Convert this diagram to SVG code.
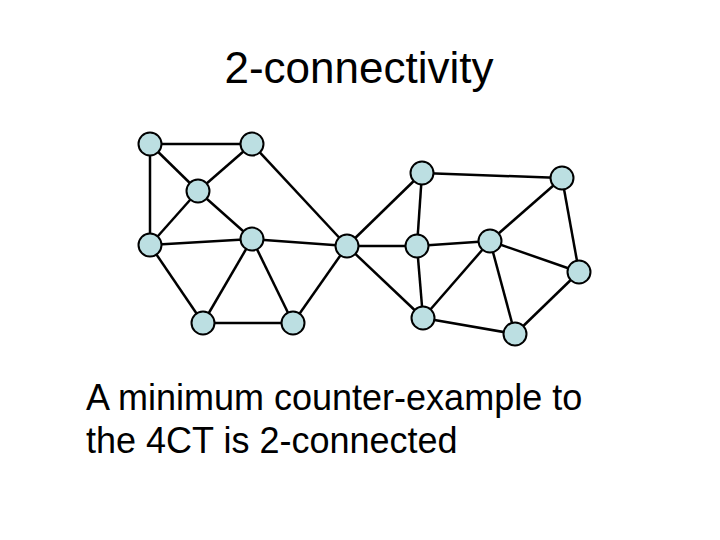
<svg xmlns="http://www.w3.org/2000/svg" width="720" height="540" viewBox="0 0 720 540">
<style>
.n{fill:#bcdfe2;stroke:#000;stroke-width:2}
.e line{stroke:#000;stroke-width:2.5}
text{font-family:"Liberation Sans",Arial,sans-serif;fill:#000}
</style>
<rect width="720" height="540" fill="#fff"/>
<text x="359" y="83" font-size="44" text-anchor="middle">2-connectivity</text>
<g class="e">
<line x1="150" y1="144" x2="252" y2="144"/>
<line x1="150" y1="144" x2="198" y2="191"/>
<line x1="150" y1="144" x2="150" y2="245"/>
<line x1="252" y1="144" x2="198" y2="191"/>
<line x1="252" y1="144" x2="347" y2="246"/>
<line x1="198" y1="191" x2="150" y2="245"/>
<line x1="198" y1="191" x2="252" y2="239"/>
<line x1="150" y1="245" x2="252" y2="239"/>
<line x1="150" y1="245" x2="203" y2="323"/>
<line x1="252" y1="239" x2="347" y2="246"/>
<line x1="252" y1="239" x2="203" y2="323"/>
<line x1="252" y1="239" x2="293" y2="323"/>
<line x1="203" y1="323" x2="293" y2="323"/>
<line x1="293" y1="323" x2="347" y2="246"/>
<line x1="347" y1="246" x2="422" y2="173"/>
<line x1="347" y1="246" x2="417" y2="246"/>
<line x1="347" y1="246" x2="423" y2="318"/>
<line x1="422" y1="173" x2="562" y2="178"/>
<line x1="422" y1="173" x2="417" y2="246"/>
<line x1="417" y1="246" x2="490" y2="241"/>
<line x1="417" y1="246" x2="423" y2="318"/>
<line x1="423" y1="318" x2="490" y2="241"/>
<line x1="423" y1="318" x2="515" y2="334"/>
<line x1="490" y1="241" x2="562" y2="178"/>
<line x1="490" y1="241" x2="579" y2="272"/>
<line x1="490" y1="241" x2="515" y2="334"/>
<line x1="562" y1="178" x2="579" y2="272"/>
<line x1="579" y1="272" x2="515" y2="334"/>
</g>
<g id="nA"><circle class="n" cx="150" cy="144" r="11.5"/></g>
<g id="nB"><circle class="n" cx="252" cy="144" r="11.5"/></g>
<g id="nC"><circle class="n" cx="198" cy="191" r="11.5"/></g>
<g id="nD"><circle class="n" cx="150" cy="245" r="11.5"/></g>
<g id="nE"><circle class="n" cx="252" cy="239" r="11.5"/></g>
<g id="nF"><circle class="n" cx="347" cy="246" r="11.5"/></g>
<g id="nG"><circle class="n" cx="203" cy="323" r="11.5"/></g>
<g id="nH"><circle class="n" cx="293" cy="323" r="11.5"/></g>
<g id="nI"><circle class="n" cx="422" cy="173" r="11.5"/></g>
<g id="nJ"><circle class="n" cx="562" cy="178" r="11.5"/></g>
<g id="nK"><circle class="n" cx="417" cy="246" r="11.5"/></g>
<g id="nL"><circle class="n" cx="490" cy="241" r="11.5"/></g>
<g id="nM"><circle class="n" cx="579" cy="272" r="11.5"/></g>
<g id="nN"><circle class="n" cx="423" cy="318" r="11.5"/></g>
<g id="nO"><circle class="n" cx="515" cy="334" r="11.5"/></g>
<text x="86" y="410" font-size="36">A minimum counter-example to</text>
<text x="86" y="453" font-size="36">the 4CT is 2-connected</text>
</svg>
